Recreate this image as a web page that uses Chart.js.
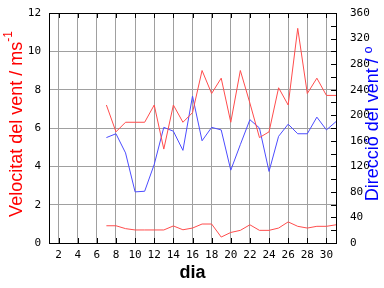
<!DOCTYPE html>
<html>
<head>
<meta charset="utf-8">
<script src="https://cdn.jsdelivr.net/npm/chart.js@4/dist/chart.umd.min.js"></script>
<style>
  html, body { margin: 0; padding: 0; background: #fff; }
  canvas { display: block; }
</style>
</head>
<body>
<canvas id="ventChart" width="384" height="288"></canvas>
<script>
// days with data (month day)
var days = [7, 8, 9, 10, 11, 12, 13, 14, 15, 16, 17, 18, 19, 20, 21, 22, 23, 24, 25, 26, 27, 28, 29, 30, 31];
// max wind speed, m/s
var maxSpeed = [7.2, 5.8, 6.3, 6.3, 6.3, 7.2, 4.9, 7.2, 6.3, 6.8, 9.0, 7.8, 8.6, 6.3, 9.0, 7.3, 5.5, 5.8, 8.1, 7.2, 11.2, 7.8, 8.6, 7.7, 7.7];
// mean wind speed, m/s
var meanSpeed = [0.9, 0.9, 0.75, 0.68, 0.68, 0.68, 0.68, 0.89, 0.69, 0.78, 0.99, 0.99, 0.31, 0.55, 0.66, 0.95, 0.66, 0.66, 0.78, 1.1, 0.87, 0.78, 0.87, 0.87, 0.95];
// wind direction, degrees
var direction = [165, 171, 141, 80, 81, 123, 181, 175, 145, 230, 160, 181, 177, 114, 154, 193, 180, 112, 167, 186, 171, 171, 197, 177, 190];

var xTicks = [2, 4, 6, 8, 10, 12, 14, 16, 18, 20, 22, 24, 26, 28, 30];

var red = '#ff4c4c';
var blue = '#4c4cff';
var gridGray = '#a0a0a0';
var tickFont = { family: 'DejaVu Sans Mono', size: 11 };

function toPoints(vals) {
  return days.map(function (d, i) { return { x: d, y: vals[i] }; });
}

// no extra room for half tick labels, the plot box is fixed
function fixY(width) {
  return function (s) { s.width = width; s.paddingTop = 0; s.paddingBottom = 0; };
}

// frame, inner tick marks and axis titles
const frameAndTitles = {
  id: 'frameAndTitles',
  afterDraw(chart) {
    const { ctx, chartArea: { top, bottom, left, right } } = chart;
    const x = chart.scales.x;
    const y1 = chart.scales.y1;
    ctx.save();
    ctx.strokeStyle = '#000';
    ctx.lineWidth = 1;
    ctx.strokeRect(Math.round(left) + 0.5, Math.round(top) + 0.5, Math.round(right - left), Math.round(bottom - top));

    ctx.beginPath();
    xTicks.forEach(function (v) {
      var px = Math.round(x.getPixelForValue(v)) + 0.5;
      ctx.moveTo(px, top); ctx.lineTo(px, top + 5);
      ctx.moveTo(px, bottom); ctx.lineTo(px, bottom - 5);
    });
    for (var d = 20; d < 360; d += 20) {
      var py = Math.round(y1.getPixelForValue(d)) + 0.5;
      ctx.moveTo(right, py); ctx.lineTo(right - 5, py);
    }
    ctx.stroke();

    // x title
    ctx.fillStyle = '#000';
    ctx.font = 'bold 18px "Liberation Sans"';
    ctx.textAlign = 'center';
    ctx.textBaseline = 'middle';
    ctx.fillText('dia', (left + right) / 2, 273);

    // left title with superscript
    ctx.save();
    ctx.translate(17, 124);
    ctx.rotate(-Math.PI / 2);
    ctx.fillStyle = 'red';
    var main = 'Velocitat del vent / ms';
    ctx.font = '12px "Liberation Sans"';
    var supW = ctx.measureText('-1').width;
    ctx.font = '18px "Liberation Sans"';
    var mainW = ctx.measureText(main).width;
    var startX = -(mainW + supW) / 2;
    ctx.textAlign = 'left';
    ctx.fillText(main, startX, 0);
    ctx.font = '12px "Liberation Sans"';
    ctx.fillText('-1', startX + mainW, -8);
    ctx.restore();

    // right title
    ctx.save();
    ctx.translate(373, 124);
    ctx.rotate(-Math.PI / 2);
    ctx.fillStyle = 'blue';
    ctx.font = '18px "Liberation Sans"';
    ctx.textAlign = 'center';
    ctx.fillText('Direcció del vent / º', 0, 0);
    ctx.restore();

    ctx.restore();
  }
};

const config = {
  type: 'line',
  data: {
    datasets: [{
      label: 'Velocitat màxima',
      data: toPoints(maxSpeed),
      borderColor: red,
      borderWidth: 1,
      pointRadius: 0,
      tension: 0,
      yAxisID: 'y'
    }, {
      label: 'Velocitat mitjana',
      data: toPoints(meanSpeed),
      borderColor: red,
      borderWidth: 1,
      pointRadius: 0,
      tension: 0,
      yAxisID: 'y'
    }, {
      label: 'Direcció',
      data: toPoints(direction),
      borderColor: blue,
      borderWidth: 1,
      pointRadius: 0,
      tension: 0,
      yAxisID: 'y1'
    }]
  },
  options: {
    responsive: false,
    animation: false,
    devicePixelRatio: 1,
    layout: { padding: { top: 13, left: 0, right: 0, bottom: 0 } },
    plugins: {
      legend: { display: false },
      tooltip: { enabled: false }
    },
    scales: {
      x: {
        type: 'linear',
        min: 1,
        max: 31,
        afterBuildTicks: function (s) { s.ticks = xTicks.map(function (v) { return { value: v }; }); },
        afterFit: function (s) { s.height = 45; s.paddingLeft = 0; s.paddingRight = 0; },
        ticks: { font: tickFont, color: '#000', padding: 6, maxRotation: 0, autoSkip: false },
        grid: { color: gridGray, drawTicks: false },
        border: { display: false }
      },
      y: {
        position: 'left',
        min: 0,
        max: 12,
        afterFit: fixY(49),
        ticks: { stepSize: 2, font: tickFont, color: '#000', padding: 8 },
        grid: { color: gridGray, drawTicks: false },
        border: { display: false }
      },
      y1: {
        position: 'right',
        min: 0,
        max: 360,
        afterFit: fixY(48),
        ticks: { stepSize: 20, font: tickFont, color: '#000', padding: 14 },
        grid: { drawOnChartArea: false, drawTicks: false },
        border: { display: false }
      }
    }
  },
  plugins: [frameAndTitles]
};

const ventChart = new Chart(document.getElementById('ventChart'), config);
</script>
</body>
</html>
